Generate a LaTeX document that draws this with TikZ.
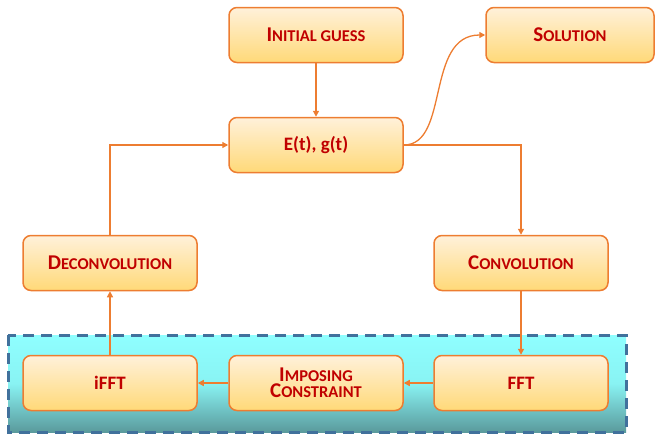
\documentclass[tikz,border=0pt]{standalone}
\usepackage{fontspec}
\setmainfont{Carlito}
\usetikzlibrary{arrows.meta}
\definecolor{boxedge}{HTML}{ED7D31}
\definecolor{boxtop}{HTML}{FFF1DA}
\definecolor{boxbot}{HTML}{FFD978}
\definecolor{boxtext}{HTML}{C00000}
\definecolor{bandtop}{HTML}{8FFFFF}
\definecolor{bandbot}{HTML}{5A9A9C}
\definecolor{bandedge}{HTML}{41719C}
\newcommand{\capsc}[2]{{\fontsize{21}{22}\selectfont #1}{\fontsize{16.5}{18}\selectfont #2}}
\tikzset{
    stepbox/.style={draw=boxedge, line width=1.5pt, rounded corners=8pt,
        top color=boxtop, bottom color=boxbot, minimum width=174pt,
        minimum height=55pt, inner sep=0pt, align=center,
        text=boxtext, font=\bfseries\fontsize{19}{18}\selectfont},
    flow/.style={draw=boxedge, line width=1.3pt, -{Triangle[length=6pt,width=6pt]}}
}
\begin{document}
\begin{tikzpicture}[x=1pt, y=-1pt]
    \useasboundingbox (0,0) rectangle (656,434);

    % Band for the Fourier steps
    \shade[top color=bandtop, bottom color=bandbot, middle color=bandtop!88!bandbot]
        (8,335) rectangle (626,432);
    \draw[bandedge, line width=3pt, dash pattern=on 11pt off 7pt] (8,335) rectangle (626,432);

    % Boxes
    \node[stepbox] (guess) at (316,35) {\capsc{I}{NITIAL GUESS}};
    \node[stepbox, minimum width=168pt] (sol) at (570,35) {\capsc{S}{OLUTION}};
    \node[stepbox] (eg) at (316,145) {E(t), g(t)};
    \node[stepbox] (deconv) at (110,263) {\capsc{D}{ECONVOLUTION}};
    \node[stepbox] (conv) at (521,263) {\capsc{C}{ONVOLUTION}};
    \node[stepbox] (ifft) at (110,383) {iFFT};
    \node[stepbox] (impose) at (316,383) {\capsc{I}{MPOSING}\\[-2pt]\capsc{C}{ONSTRAINT}};
    \node[stepbox] (fft) at (521,383) {FFT};

    % Connectors
    \draw[flow] (guess) -- (eg);
    \draw[flow] (eg.east) .. controls (450,145) and (425,35) .. (sol.west);
    \draw[flow] (eg.east) -| (conv.north);
    \draw[flow] (conv) -- (fft);
    \draw[flow] (fft) -- (impose);
    \draw[flow] (impose) -- (ifft);
    \draw[flow] (ifft) -- (deconv);
    \draw[flow] (deconv.north) |- (eg.west);
\end{tikzpicture}
\end{document}
